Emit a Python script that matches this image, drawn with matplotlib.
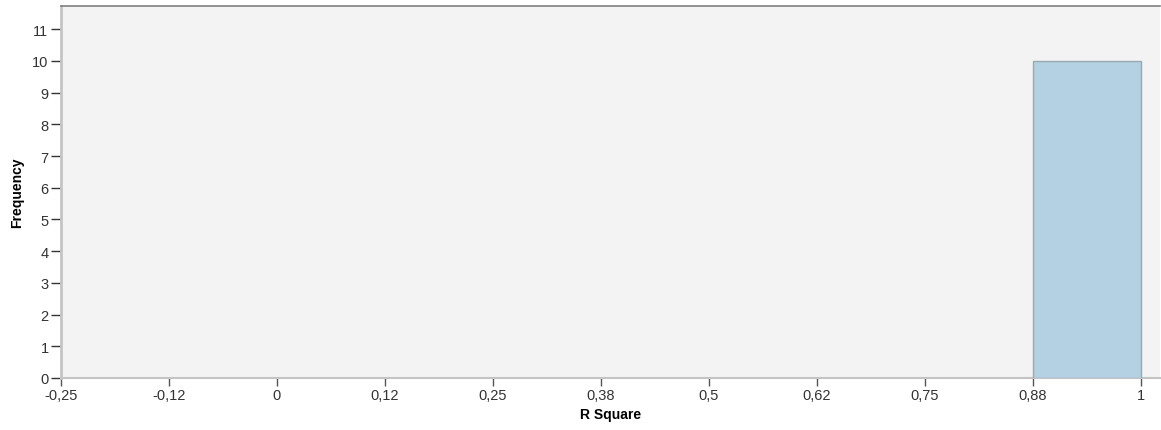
import matplotlib

matplotlib.use("Agg")
import matplotlib.pyplot as plt  # noqa: E402
import numpy as np  # noqa: E402

# histogram of R Square values
bin_edges = [0.875, 1.0]
counts = [10]

x_ticks = [-0.25, -0.125, 0.0, 0.125, 0.25, 0.375, 0.5, 0.625, 0.75, 0.875, 1.0]
x_tick_labels = ["-0,25", "-0,12", "0", "0,12", "0,25", "0,38", "0,5", "0,62", "0,75", "0,88", "1"]
y_ticks = list(range(0, 12))

plt.rcParams["font.family"] = ["Liberation Sans", "DejaVu Sans"]

fig = plt.figure(figsize=(11.61, 4.31), dpi=100)
ax = fig.add_axes([61 / 1161, 1 - 379 / 431, 1099 / 1161, 372 / 431])
ax.set_facecolor("#f3f3f3")

widths = np.diff(bin_edges)
ax.bar(bin_edges[:-1], counts, width=widths, align="edge",
       color="#b3d1e3", edgecolor="#9aa8b0", linewidth=1.0, zorder=3)

ax.set_xlim(-0.25, 1.022)
ax.set_ylim(0, 11.73)
ax.set_xticks(x_ticks)
ax.set_xticklabels(x_tick_labels)
ax.set_yticks(y_ticks)
ax.tick_params(axis="both", labelsize=10.5, colors="#333333", length=7, width=1,
               direction="out", pad=2)
ax.tick_params(axis="x", colors="#555555", labelcolor="#333333", length=6, pad=1)

ax.spines["top"].set_color("#7f7f7f")
ax.spines["top"].set_linewidth(1.2)
ax.spines["right"].set_visible(False)
ax.spines["left"].set_color("#c4c4c4")
ax.spines["left"].set_linewidth(2)
ax.spines["bottom"].set_color("#c4c4c4")
ax.spines["bottom"].set_linewidth(1.5)

ax.set_xlabel("R Square", fontsize=10, fontweight="bold", labelpad=4)
ax.set_ylabel("Frequency", fontsize=10, fontweight="bold", labelpad=6)

fig.savefig("out.png", dpi=100)
